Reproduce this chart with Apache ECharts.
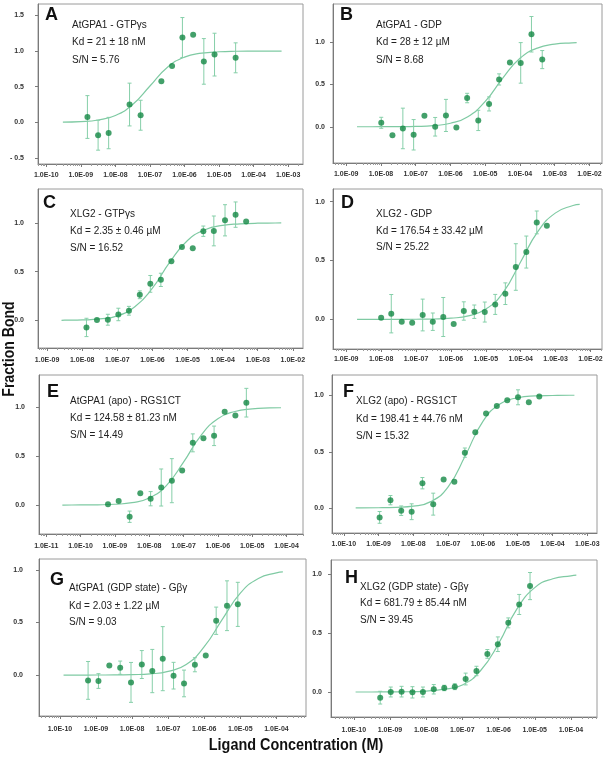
<!DOCTYPE html>
<html><head><meta charset="utf-8">
<script src="https://cdn.jsdelivr.net/npm/echarts@6/dist/echarts.min.js"></script>
<style>html,body{margin:0;padding:0;background:#fff}#c{width:606px;height:761px}</style>
</head><body><div id="c"></div>
<script>
// ---------- DATA ----------
// concentrations in M, fraction bound, error (±)
const concA = [1.55e-9, 3.16e-9, 6.38e-9, 2.57e-8, 5.37e-8, 2.14e-7, 4.37e-7, 8.71e-7, 1.78e-6, 3.63e-6, 7.41e-6, 3.02e-5];
const fracA = [0.075, -0.18, -0.15, 0.25, 0.10, 0.575, 0.79, 1.19, 1.23, 0.855, 0.95, 0.905];
const errA  = [0.30, 0.21, 0.22, 0.30, 0.21, 0, 0, 0.28, 0, 0.32, 0.30, 0.21];
const curveConcA = [3.02e-10, 1e-9, 3.16e-9, 1e-8, 3.16e-8, 1e-7, 3.16e-7, 1e-6, 3.16e-6, 1e-5, 3.16e-5, 1e-4, 3.16e-4, 6.46e-4];
const curveFracA = [0.003, 0.01, 0.033, 0.097, 0.25, 0.51, 0.77, 0.915, 0.97, 0.99, 0.997, 0.999, 1.0, 1.0];

const concB = [1.02e-8, 2.14e-8, 4.27e-8, 8.71e-8, 1.78e-7, 3.63e-7, 7.41e-7, 1.48e-6, 3.02e-6, 6.31e-6, 1.29e-5, 2.51e-5, 5.13e-5, 1.05e-4, 2.14e-4, 4.37e-4];
const fracB = [0.047, -0.10, -0.02, -0.095, 0.13, 0.0, 0.134, -0.01, 0.34, 0.075, 0.27, 0.56, 0.76, 0.756, 1.095, 0.795];
const errB  = [0.065, 0, 0.24, 0.18, 0, 0.11, 0.19, 0, 0.056, 0.12, 0.083, 0.066, 0, 0.24, 0.21, 0.107];
const curveConcB = [2.04e-9, 3.16e-9, 1e-8, 3.16e-8, 1e-7, 3.16e-7, 1e-6, 3.16e-6, 1e-5, 3.16e-5, 1e-4, 3.16e-4, 1e-3, 3.16e-3, 4.27e-3];
const curveFracB = [0.0, 0.0001, 0.0004, 0.0013, 0.004, 0.013, 0.041, 0.119, 0.30, 0.574, 0.81, 0.931, 0.977, 0.993, 0.995];

const concC = [1.32e-8, 2.63e-8, 5.37e-8, 1.07e-7, 2.14e-7, 4.37e-7, 8.71e-7, 1.74e-6, 3.47e-6, 6.92e-6, 1.41e-5, 2.82e-5, 5.62e-5, 1.17e-4, 2.34e-4, 4.68e-4];
const fracC = [-0.072, 0.003, 0.007, 0.061, 0.099, 0.263, 0.375, 0.416, 0.607, 0.754, 0.74, 0.915, 0.918, 1.027, 1.085, 1.014];
const errC  = [0.094, 0, 0.056, 0.064, 0.045, 0.04, 0.086, 0.068, 0, 0, 0, 0.053, 0.153, 0.16, 0.13, 0];
const curveConcC = [2.57e-9, 3.16e-9, 1e-8, 3.16e-8, 1e-7, 3.16e-7, 1e-6, 3.16e-6, 1e-5, 3.16e-5, 1e-4, 3.16e-4, 1e-3, 3.16e-3, 4.68e-3];
const curveFracC = [0.001, 0.002, 0.005, 0.015, 0.046, 0.14, 0.33, 0.60, 0.82, 0.93, 0.975, 0.99, 0.997, 0.999, 1.0];

const concD = [1.0e-8, 1.95e-8, 3.89e-8, 7.76e-8, 1.55e-7, 3.02e-7, 6.03e-7, 1.2e-6, 2.34e-6, 4.68e-6, 9.33e-6, 1.86e-5, 3.63e-5, 7.24e-5, 1.45e-4, 2.88e-4, 5.62e-4];
const fracD = [0.014, 0.048, -0.02, -0.028, 0.037, -0.02, 0.02, -0.04, 0.071, 0.065, 0.062, 0.127, 0.218, 0.445, 0.572, 0.824, 0.796];
const errD  = [0, 0.163, 0, 0, 0.135, 0.074, 0.166, 0, 0.078, 0.057, 0.085, 0.085, 0.092, 0.198, 0.136, 0.097, 0];
const curveConcD = [2.04e-9, 3.16e-9, 1e-8, 3.16e-8, 1e-7, 3.16e-7, 1e-6, 3.16e-6, 1e-5, 3.16e-5, 1e-4, 3.16e-4, 1e-3, 3.16e-3, 4.9e-3];
const curveFracD = [0.0, 0.0, 0.0001, 0.0003, 0.001, 0.003, 0.01, 0.03, 0.087, 0.23, 0.49, 0.75, 0.905, 0.968, 0.978];

const concE = [6.31e-10, 1.29e-9, 2.69e-9, 5.5e-9, 1.1e-8, 2.24e-8, 4.57e-8, 9.12e-8, 1.86e-7, 3.8e-7, 7.76e-7, 1.58e-6, 3.24e-6, 6.76e-6];
const fracE = [0.007, 0.041, -0.12, 0.12, 0.065, 0.18, 0.25, 0.355, 0.638, 0.686, 0.71, 0.956, 0.918, 1.05];
const errE  = [0, 0, 0.058, 0, 0.073, 0.19, 0.226, 0, 0.092, 0, 0.1, 0, 0, 0.147];
const curveConcE = [2.95e-11, 3.16e-11, 1e-10, 3.16e-10, 1e-9, 3.16e-9, 1e-8, 3.16e-8, 1e-7, 3.16e-7, 1e-6, 3.16e-6, 1e-5, 3.16e-5, 6.92e-5];
const curveFracE = [0.0, 0.0, 0.001, 0.0025, 0.008, 0.024, 0.072, 0.20, 0.44, 0.71, 0.886, 0.96, 0.987, 0.996, 0.998];

const concF = [1.07e-9, 2.19e-9, 4.47e-9, 8.91e-9, 1.82e-8, 3.72e-8, 7.41e-8, 1.51e-7, 3.02e-7, 6.03e-7, 1.23e-6, 2.51e-6, 5.01e-6, 1.02e-5, 2.09e-5, 4.17e-5];
const fracF = [-0.079, 0.073, -0.02, -0.029, 0.223, 0.038, 0.255, 0.235, 0.493, 0.674, 0.839, 0.906, 0.956, 0.982, 0.938, 0.988];
const errF  = [0.052, 0.041, 0.042, 0.07, 0.05, 0.097, 0, 0, 0.041, 0, 0, 0, 0, 0.066, 0, 0];
const curveConcF = [2.19e-10, 3.16e-10, 1e-9, 3.16e-9, 1e-8, 3.16e-8, 1e-7, 3.16e-7, 1e-6, 3.16e-6, 1e-5, 3.16e-5, 1e-4, 3.16e-4, 4.27e-4];
const curveFracF = [0.005, 0.005, 0.006, 0.01, 0.02, 0.06, 0.19, 0.47, 0.77, 0.925, 0.978, 0.994, 0.998, 1.0, 1.0];

const concG = [6.03e-10, 1.17e-9, 2.34e-9, 4.68e-9, 9.33e-9, 1.86e-8, 3.63e-8, 7.08e-8, 1.41e-7, 2.75e-7, 5.5e-7, 1.1e-6, 2.14e-6, 4.27e-6, 8.51e-6];
const fracG = [-0.051, -0.057, 0.092, 0.07, -0.07, 0.10, 0.038, 0.156, -0.006, -0.08, 0.098, 0.187, 0.517, 0.66, 0.673];
const errG  = [0.18, 0.07, 0, 0.063, 0.19, 0.133, 0.206, 0.305, 0.127, 0.127, 0.067, 0, 0.13, 0.237, 0.21];
const curveConcG = [1.26e-10, 3.16e-10, 1e-9, 3.16e-9, 1e-8, 3.16e-8, 1e-7, 3.16e-7, 1e-6, 3.16e-6, 1e-5, 3.16e-5, 1e-4, 1.51e-4];
const curveFracG = [0.0, 0.0, 0.0004, 0.001, 0.004, 0.011, 0.035, 0.10, 0.27, 0.53, 0.78, 0.92, 0.973, 0.982];

const concH = [5.37e-10, 1.05e-9, 2.09e-9, 4.17e-9, 8.13e-9, 1.62e-8, 3.16e-8, 6.17e-8, 1.23e-7, 2.45e-7, 4.9e-7, 9.55e-7, 1.86e-6, 3.72e-6, 7.41e-6];
const fracH = [-0.048, 0.0, 0.003, -0.003, 0.0, 0.023, 0.034, 0.045, 0.11, 0.178, 0.323, 0.405, 0.586, 0.742, 0.898];
const errH  = [0.054, 0.042, 0.045, 0.048, 0.042, 0.04, 0.023, 0.025, 0.05, 0.04, 0.037, 0.062, 0.042, 0.085, 0.115];
const curveConcH = [1.12e-10, 3.16e-10, 1e-9, 3.16e-9, 1e-8, 3.16e-8, 1e-7, 3.16e-7, 1e-6, 3.16e-6, 1e-5, 3.16e-5, 1e-4, 1.41e-4];
const curveFracH = [0.0, 0.0, 0.0008, 0.002, 0.008, 0.024, 0.06, 0.18, 0.41, 0.70, 0.885, 0.96, 0.985, 0.99];

// tick labels
const xTicksA = [1e-10, 1e-9, 1e-8, 1e-7, 1e-6, 1e-5, 1e-4, 1e-3];
const xTicksB = [1e-9, 1e-8, 1e-7, 1e-6, 1e-5, 1e-4, 1e-3, 1e-2];
const xTicksC = [1e-9, 1e-8, 1e-7, 1e-6, 1e-5, 1e-4, 1e-3, 1e-2];
const xTicksD = [1e-9, 1e-8, 1e-7, 1e-6, 1e-5, 1e-4, 1e-3, 1e-2];
const xTicksE = [1e-11, 1e-10, 1e-9, 1e-8, 1e-7, 1e-6, 1e-5, 1e-4];
const xTicksF = [1e-10, 1e-9, 1e-8, 1e-7, 1e-6, 1e-5, 1e-4, 1e-3];
const xTicksG = [1e-10, 1e-9, 1e-8, 1e-7, 1e-6, 1e-5, 1e-4];
const xTicksH = [1e-10, 1e-9, 1e-8, 1e-7, 1e-6, 1e-5, 1e-4];
const yTicksA = [-0.5, 0, 0.5, 1.0, 1.5];
const yTicksOther = [0, 0.5, 1.0];

// annotation texts
const labelsA = ['AtGPA1 - GTPγs', 'Kd = 21 ± 18 nM', 'S/N = 5.76'];
const labelsB = ['AtGPA1 - GDP', 'Kd = 28 ± 12 µM', 'S/N = 8.68'];
const labelsC = ['XLG2 - GTPγs', 'Kd = 2.35 ± 0.46 µM', 'S/N = 16.52'];
const labelsD = ['XLG2 - GDP', 'Kd = 176.54 ± 33.42 µM', 'S/N = 25.22'];
const labelsE = ['AtGPA1 (apo) - RGS1CT', 'Kd = 124.58 ± 81.23 nM', 'S/N = 14.49'];
const labelsF = ['XLG2 (apo) - RGS1CT', 'Kd = 198.41 ± 44.76 nM', 'S/N = 15.32'];
const labelsG = ['AtGPA1 (GDP state) - Gβγ', 'Kd = 2.03 ± 1.22 µM', 'S/N = 9.03'];
const labelsH = ['XLG2 (GDP state) - Gβγ', 'Kd = 681.79 ± 85.44 nM', 'S/N = 39.45'];

const yAxisTitle = 'Fraction Bond';
const xAxisTitle = 'Ligand Concentration (M)';

// ---------- LAYOUT ----------
const panels = [
  {letter:'A', conc:concA, frac:fracA, err:errA, cx:curveConcA, cy:curveFracA, xt:xTicksA, yt:yTicksA, labels:labelsA,
   grid:{left:38, top:4, width:265, height:160}, xl:[-10.24,-2.57], yl:[-0.584,1.66], tx:72, ty:[25.7,42.5,60.5], lx:45, ly:16, ym:14, xm:7.5},
  {letter:'B', conc:concB, frac:fracB, err:errB, cx:curveConcB, cy:curveFracB, xt:xTicksB, yt:yTicksOther, labels:labelsB,
   grid:{left:333, top:4, width:269, height:159}, xl:[-9.38,-1.64], yl:[-0.429,1.453], tx:376, ty:[25.7,42.5,60], lx:340, ly:16, ym:8, xm:7.5},
  {letter:'C', conc:concC, frac:fracC, err:errC, cx:curveConcC, cy:curveFracC, xt:xTicksC, yt:yTicksOther, labels:labelsC,
   grid:{left:38, top:189, width:265, height:159}, xl:[-9.26,-1.71], yl:[-0.283,1.348], tx:70, ty:[214.3,230.9,248.3], lx:43, ly:204, ym:14, xm:8.5},
  {letter:'D', conc:concD, frac:fracD, err:errD, cx:curveConcD, cy:curveFracD, xt:xTicksD, yt:yTicksOther, labels:labelsD,
   grid:{left:333, top:189, width:269, height:160}, xl:[-9.38,-1.67], yl:[-0.252,1.108], tx:376, ty:[214.3,230.9,247.7], lx:341, ly:204, ym:8, xm:7},
  {letter:'E', conc:concE, frac:fracE, err:errE, cx:curveConcE, cy:curveFracE, xt:xTicksE, yt:yTicksOther, labels:labelsE,
   grid:{left:39, top:375, width:264, height:159}, xl:[-11.21,-3.52], yl:[-0.297,1.334], tx:70, ty:[401.7,418.5,435.7], lx:47, ly:393.5, ym:14, xm:8.5},
  {letter:'F', conc:concF, frac:fracF, err:errF, cx:curveConcF, cy:curveFracF, xt:xTicksF, yt:yTicksOther, labels:labelsF,
   grid:{left:332, top:375, width:265, height:158}, xl:[-10.34,-2.72], yl:[-0.217,1.179], tx:356, ty:[401.7,419,436], lx:343, ly:393.5, ym:8, xm:7.5},
  {letter:'G', conc:concG, frac:fracG, err:errG, cx:curveConcG, cy:curveFracG, xt:xTicksG, yt:yTicksOther, labels:labelsG,
   grid:{left:39, top:559, width:267, height:157}, xl:[-10.58,-3.18], yl:[-0.39,1.105], tx:69, ty:[588.3,606,622.7], lx:50, ly:581, ym:16, xm:10},
  {letter:'H', conc:concH, frac:fracH, err:errH, cx:curveConcH, cy:curveFracH, xt:xTicksH, yt:yTicksOther, labels:labelsH,
   grid:{left:331, top:560, width:266, height:157}, xl:[-10.63,-3.28], yl:[-0.212,1.119], tx:360, ty:[587.3,603.3,620.3], lx:345, ly:579.5, ym:9, xm:10}
];

const FONT = '"Liberation Sans", Arial, sans-serif';
const PT_COLOR = '#148845';
const CURVE_COLOR = '#7fcaa3';
const ERR_COLOR = '#86cfa9';
const BORDER = '#9a9a9a';
const AXIS = '#7a7a7a';
const LABEL = '#333333';

function expLabel(v) {
  const e = Math.round(Math.log10(v));
  return '1.0E' + (e < 0 ? '-' : '+') + String(Math.abs(e)).padStart(2, '0');
}
function minorValues(lo, hi) {
  const out = [];
  for (let d = Math.floor(lo); d <= Math.ceil(hi); d++) {
    for (let k = 2; k <= 9; k++) {
      const v = k * Math.pow(10, d);
      const lv = Math.log10(v);
      if (lv > lo && lv < hi) out.push(v);
    }
  }
  return out;
}

const grids = [], xAxes = [], yAxes = [], series = [], graphics = [];
panels.forEach((p, i) => {
  grids.push(Object.assign({show:true, borderColor:BORDER, borderWidth:1, backgroundColor:'#fff'}, p.grid));
  const xmin = Math.pow(10, p.xl[0]), xmax = Math.pow(10, p.xl[1]);
  xAxes.push({
    type:'log', logBase:10, gridIndex:i, min:xmin, max:xmax, position:'bottom',
    axisLine:{show:true, onZero:false, lineStyle:{color:AXIS, width:1}},
    axisTick:{show:true, inside:false, length:3, customValues:p.xt, lineStyle:{color:AXIS, width:1}},
    minorTick:{show:false},
    axisLabel:{show:true, customValues:p.xt, formatter:expLabel, fontSize:7, fontWeight:'bold', color:LABEL, fontFamily:FONT, margin:p.xm},
    splitLine:{show:false}
  });
  xAxes.push({
    type:'log', logBase:10, gridIndex:i, min:xmin, max:xmax, position:'bottom',
    axisLine:{show:false, onZero:false},
    axisTick:{show:true, inside:false, length:2, customValues:minorValues(p.xl[0], p.xl[1]), lineStyle:{color:'#9a9a9a', width:1}},
    axisLabel:{show:false},
    splitLine:{show:false}
  });
  yAxes.push({
    type:'value', gridIndex:i, min:p.yl[0], max:p.yl[1], position:'left',
    axisLine:{show:true, onZero:false, lineStyle:{color:AXIS, width:1}},
    axisTick:{show:true, inside:false, length:3, customValues:p.yt, lineStyle:{color:AXIS}},
    axisLabel:{show:true, customValues:p.yt, fontSize:7, fontWeight:'bold', color:LABEL, fontFamily:FONT, margin:p.ym,
      formatter: v => v < 0 ? '- ' + Math.abs(v).toFixed(1) : v.toFixed(1)},
    splitLine:{show:false}
  });
  const xIdx = i * 2;
  series.push({
    type:'line', xAxisIndex:xIdx, yAxisIndex:i, smooth:0.5, symbol:'none', silent:true,
    lineStyle:{color:CURVE_COLOR, width:1.2},
    data:p.cx.map((c, j) => [c, p.cy[j]]), z:2
  });
  series.push({
    type:'custom', xAxisIndex:xIdx, yAxisIndex:i, silent:true, z:3,
    encode:{x:0, y:1},
    data:p.conc.map((c, j) => [c, p.frac[j], p.err[j]]),
    renderItem:(params, api) => {
      const x = api.value(0), y = api.value(1), e = api.value(2);
      if (!e) return null;
      const t = api.coord([x, y + e]), b = api.coord([x, y - e]);
      const hw = 2;
      const st = {stroke:ERR_COLOR, lineWidth:1};
      return {type:'group', children:[
        {type:'line', shape:{x1:t[0], y1:t[1], x2:b[0], y2:b[1]}, style:st},
        {type:'line', shape:{x1:t[0]-hw, y1:t[1], x2:t[0]+hw, y2:t[1]}, style:st},
        {type:'line', shape:{x1:b[0]-hw, y1:b[1], x2:b[0]+hw, y2:b[1]}, style:st}
      ]};
    }
  });
  series.push({
    type:'scatter', xAxisIndex:xIdx, yAxisIndex:i, symbol:'circle', symbolSize:6, z:4,
    itemStyle:{color:PT_COLOR}, data:p.conc.map((c, j) => [c, p.frac[j]])
  });
  graphics.push({type:'text', left:p.lx, top:p.ly - 10, style:{text:p.letter, font:'bold 18px ' + FONT, fill:'#111'}, z:10});
  p.labels.forEach((t, k) => {
    graphics.push({type:'text', x:p.tx, y:p.ty[k], style:{text:t, font:'10px ' + FONT, fill:'#222', textVerticalAlign:'middle', verticalAlign:'middle'}, z:10});
  });
});

graphics.push({type:'text', x:10, y:349, rotation:Math.PI/2, scaleX:0.88, style:{text:yAxisTitle, font:'bold 16px ' + FONT, fill:'#111', align:'center', verticalAlign:'middle', textAlign:'center', textVerticalAlign:'middle'}, z:10});
graphics.push({type:'text', x:296, y:746, scaleX:0.9, style:{text:xAxisTitle, font:'bold 16px ' + FONT, fill:'#111', align:'center', verticalAlign:'middle', textAlign:'center', textVerticalAlign:'middle'}, z:10});

const chart = echarts.init(document.getElementById('c'), null, {renderer:'canvas', width:606, height:761});
chart.setOption({
  animation:false, backgroundColor:'#fff',
  textStyle:{fontFamily:FONT},
  grid:grids, xAxis:xAxes, yAxis:yAxes, series:series, graphic:graphics
});
</script></body></html>
